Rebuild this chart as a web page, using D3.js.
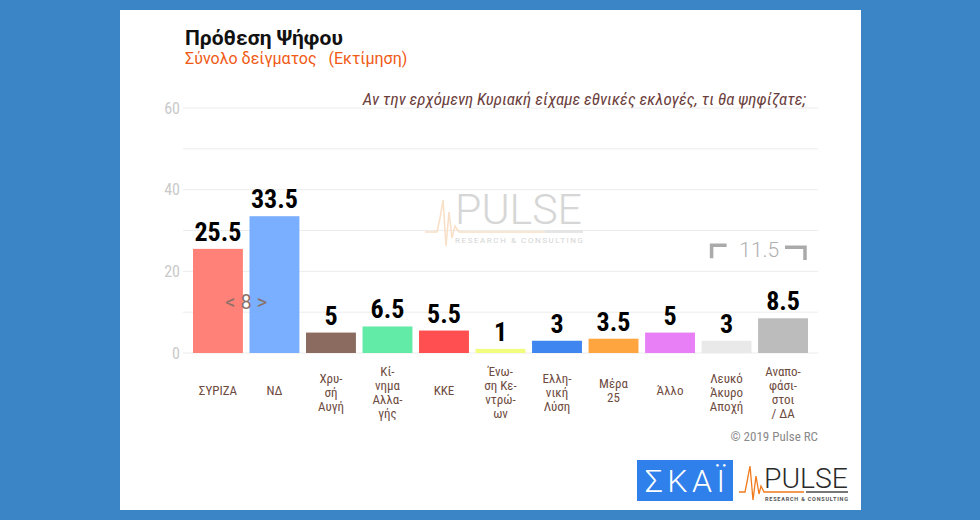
<!DOCTYPE html>
<html>
<head>
<meta charset="utf-8">
<script src="https://cdn.jsdelivr.net/npm/d3@7"></script>
<style>
  body { margin: 0; background: #3b84c5; }
  svg { display: block; }
</style>
</head>
<body>
<div id="chart"></div>
<script>
const parties = ["ΣΥΡΙΖΑ", "ΝΔ", "Χρυσή Αυγή", "Κίνημα Αλλαγής", "ΚΚΕ", "Ένωση Κεντρώων",
  "Ελληνική Λύση", "Μέρα 25", "Άλλο", "Λευκό Άκυρο Αποχή", "Αναποφάσιστοι / ΔΑ"];
const partyLabelLines = [["ΣΥΡΙΖΑ"], ["ΝΔ"], ["Χρυ-", "σή", "Αυγή"], ["Κί-", "νημα", "Αλλα-", "γής"],
  ["ΚΚΕ"], ["Ένω-", "ση Κε-", "ντρώ-", "ων"], ["Ελλη-", "νική", "Λύση"], ["Μέρα", "25"], ["Άλλο"],
  ["Λευκό", "Άκυρο", "Αποχή"], ["Αναπο-", "φάσι-", "στοι", "/ ΔΑ"]];
const votes = [25.5, 33.5, 5, 6.5, 5.5, 1, 3, 3.5, 5, 3, 8.5];
const barColors = ["#ff8177", "#7aaeff", "#8b6b5f", "#62eaa7", "#ff4f50", "#f2fd7e",
  "#3f86f0", "#ffa540", "#e97ff6", "#e9e9e9", "#bcbcbc"];
const yTickLabels = [0, 20, 40, 60];
const gridValues = [0, 10, 20, 30, 40, 50, 60];

const width = 980, height = 520;
const condensed = "'Roboto Condensed', 'Liberation Sans Narrow', 'DejaVu Sans Condensed', sans-serif";

const svg = d3.select("#chart").append("svg")
  .attr("width", width)
  .attr("height", height);

svg.append("rect").attr("width", width).attr("height", height).attr("fill", "#3b84c5");
svg.append("rect").attr("x", 120).attr("y", 10).attr("width", 741).attr("height", 500).attr("fill", "#fff");

const x = d3.scaleBand()
  .domain(parties)
  .range([183, 818])
  .paddingInner(0.117)
  .paddingOuter(0.177);

const y = d3.scaleLinear()
  .domain([0, 60])
  .range([353, 108]);

// grid
svg.append("g")
  .selectAll("line")
  .data(gridValues)
  .enter()
  .append("line")
  .attr("x1", 183)
  .attr("x2", 818)
  .attr("y1", d => y(d))
  .attr("y2", d => y(d))
  .attr("stroke", "#ececec")
  .attr("stroke-width", 1);

// y axis labels
const yAxis = svg.append("g")
  .attr("transform", "translate(180,0)")
  .call(d3.axisLeft(y).tickValues(yTickLabels).tickSize(0).tickPadding(0));
yAxis.select(".domain").remove();
yAxis.selectAll("text")
  .attr("font-family", condensed)
  .attr("font-size", 16)
  .attr("fill", "#c9c9c9");

// watermark
const wm = svg.append("g").attr("opacity", 0.9);
wm.append("path")
  .attr("d", "M425,232 L437,232 L440,218 L443,200 L446,246 L449,212 L452,238 L455,226 L459,232 L545,232")
  .attr("fill", "none")
  .attr("stroke", "#f8dcc0")
  .attr("stroke-width", 1.5);
wm.append("text")
  .attr("x", 455)
  .attr("y", 224)
  .attr("font-family", "Roboto, sans-serif")
  .attr("font-weight", 300)
  .attr("font-size", 43)
  .attr("textLength", 127)
  .attr("lengthAdjust", "spacingAndGlyphs")
  .attr("fill", "#d2d2d2")
  .text("PULSE");
wm.append("rect").attr("x", 545).attr("y", 230).attr("width", 38).attr("height", 3).attr("fill", "#e4e4e4");
wm.append("text")
  .attr("x", 455)
  .attr("y", 243)
  .attr("font-family", "Roboto, sans-serif")
  .attr("font-size", 8)
  .attr("textLength", 128)
  .attr("lengthAdjust", "spacing")
  .attr("fill", "#d0d0d0")
  .text("RESEARCH & CONSULTING");

// bars
svg.append("g")
  .selectAll("rect")
  .data(votes)
  .enter()
  .append("rect")
  .attr("x", (d, i) => x(parties[i]))
  .attr("y", d => y(d))
  .attr("width", x.bandwidth())
  .attr("height", d => y(0) - y(d))
  .attr("fill", (d, i) => barColors[i]);

// value labels
svg.append("g")
  .selectAll("text")
  .data(votes)
  .enter()
  .append("text")
  .attr("x", (d, i) => x(parties[i]) + x.bandwidth() / 2)
  .attr("y", d => y(d) - 8)
  .attr("text-anchor", "middle")
  .attr("font-family", condensed)
  .attr("font-weight", "bold")
  .attr("font-size", 26)
  .attr("fill", "#000")
  .text(d => d);

// category labels
const lineGap = 14;
const catLabels = svg.append("g")
  .selectAll("text")
  .data(partyLabelLines)
  .enter()
  .append("text")
  .attr("x", (d, i) => x(parties[i]) + x.bandwidth() / 2)
  .attr("y", d => 395 - (d.length - 1) * lineGap / 2 + (d.length > 2 ? 2 : 0))
  .attr("text-anchor", "middle")
  .attr("font-family", condensed)
  .attr("font-size", 13)
  .attr("fill", "#6e4b40");
catLabels.each(function(lines) {
  const t = d3.select(this);
  const x0 = t.attr("x");
  lines.forEach((line, j) => {
    t.append("tspan")
      .attr("x", x0)
      .attr("dy", j === 0 ? 0 : lineGap)
      .text(line);
  });
});

// lead annotation between first two parties
const lead = votes[1] - votes[0];
svg.append("text")
  .attr("x", (x(parties[0]) + x(parties[1]) + x.bandwidth()) / 2)
  .attr("y", y(12.6))
  .attr("dy", "0.35em")
  .attr("text-anchor", "middle")
  .attr("font-family", "Roboto, sans-serif")
  .attr("font-size", 20)
  .attr("fill", "#8a7068")
  .text("< " + lead + " >");

// bracket over blank + undecided
const sumLast = votes[9] + votes[10];
const bL = x(parties[9]) + 10;
const bR = x(parties[10]) + x.bandwidth() - 3;
const bracket = svg.append("g").attr("fill", "none").attr("stroke", "#aaaaaa").attr("stroke-width", 3.5);
bracket.append("path").attr("d", `M${bL},${y(23.2)} V${y(26.4)} H${bL + 15}`);
bracket.append("path").attr("d", `M${bR - 20},${y(25.9)} H${bR} V${y(22.8)}`);
svg.append("text")
  .attr("x", (bL + bR) / 2 + 1)
  .attr("y", y(25.4))
  .attr("dy", "0.35em")
  .attr("text-anchor", "middle")
  .attr("font-family", "Roboto, sans-serif")
  .attr("font-weight", 300)
  .attr("font-size", 21)
  .attr("fill", "#b0b0b0")
  .text(sumLast);

// titles
svg.append("text")
  .attr("x", 185)
  .attr("y", 45)
  .attr("font-family", "Roboto, sans-serif")
  .attr("font-weight", "bold")
  .attr("font-size", 21)
  .attr("fill", "#111")
  .text("Πρόθεση Ψήφου");
svg.append("text")
  .attr("x", 185)
  .attr("y", 64)
  .attr("font-family", "Roboto, sans-serif")
  .attr("font-size", 16)
  .attr("fill", "#f05a14")
  .style("white-space", "pre")
  .text("Σύνολο δείγματος   (Εκτίμηση)");
svg.append("text")
  .attr("x", 806)
  .attr("y", 105)
  .attr("text-anchor", "end")
  .attr("font-family", condensed)
  .attr("font-style", "italic")
  .attr("font-size", 17)
  .attr("fill", "#6b3e3c")
  .text("Αν την ερχόμενη Κυριακή είχαμε εθνικές εκλογές, τι θα ψηφίζατε;");

svg.append("text")
  .attr("x", 818)
  .attr("y", 441)
  .attr("text-anchor", "end")
  .attr("font-family", condensed)
  .attr("font-size", 13)
  .attr("fill", "#8a8a8a")
  .text("© 2019 Pulse RC");

// SKAI logo
svg.append("rect").attr("x", 637).attr("y", 460).attr("width", 96).attr("height", 41).attr("fill", "#2f80ea");
svg.append("text")
  .attr("x", 645)
  .attr("y", 492)
  .attr("font-family", "Roboto, sans-serif")
  .attr("font-weight", 300)
  .attr("font-size", 32)
  .attr("textLength", 80)
  .attr("lengthAdjust", "spacing")
  .attr("fill", "#fff")
  .text("ΣΚΑΪ");

// Pulse logo
const logo = svg.append("g");
logo.append("path")
  .attr("d", "M739,492 L745,492 L747,482 L750,466 L753,500 L756,476 L759,494 L761,486 L764,492 L804,492")
  .attr("fill", "none")
  .attr("stroke", "#f07a1c")
  .attr("stroke-width", 1.3);
logo.append("text")
  .attr("x", 764)
  .attr("y", 488)
  .attr("font-family", "Roboto, sans-serif")
  .attr("font-weight", 300)
  .attr("font-size", 28)
  .attr("textLength", 84)
  .attr("lengthAdjust", "spacingAndGlyphs")
  .attr("fill", "#2a2a2a")
  .text("PULSE");
logo.append("rect").attr("x", 806).attr("y", 491).attr("width", 42).attr("height", 2).attr("fill", "#777");
logo.append("text")
  .attr("x", 765)
  .attr("y", 501)
  .attr("font-family", "Roboto, sans-serif")
  .attr("font-weight", "bold")
  .attr("font-size", 5.5)
  .attr("textLength", 83)
  .attr("lengthAdjust", "spacing")
  .attr("fill", "#555")
  .text("RESEARCH & CONSULTING");
</script>
</body>
</html>
